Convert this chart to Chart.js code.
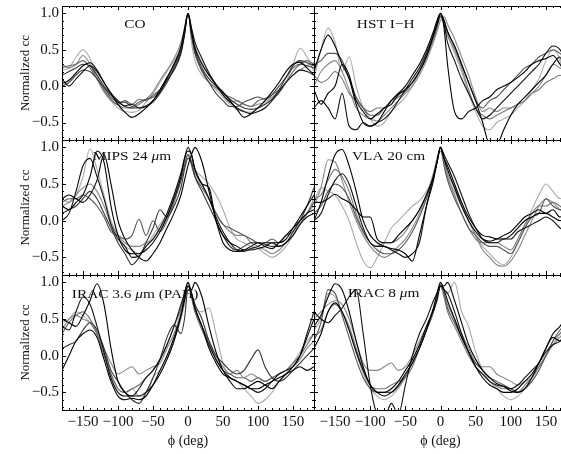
<!DOCTYPE html>
<html>
<head>
<meta charset="utf-8">
<script src="https://cdn.jsdelivr.net/npm/chart.js@4.4.1/dist/chart.umd.min.js"></script>
<style>
html, body { margin: 0; padding: 0; background: #fff; }
body { width: 561px; height: 454px; overflow: hidden; position: relative; }
canvas { position: absolute; }
</style>
</head>
<body>
<script>
// phase angle grid (deg), shared by every curve
const phi = [-180,-170,-160,-150,-140,-130,-120,-110,-100,-90,-80,-70,-60,-50,-40,-30,-20,-10,
             -5,0,5,
             10,20,30,40,50,60,70,80,90,100,110,120,130,140,150,160,170,180];

const xTicks = [-150, -100, -50, 0, 50, 100, 150];
const yTicks = [-0.5, 0, 0.5, 1];

// CO
const co1 = [0.03,0.08,0.18,0.28,0.32,0.22,0.05,-0.10,-0.25, -0.36,-0.43,-0.38,-0.30,-0.20,-0.05,0.12,0.30,0.55, 0.78,1.00,0.75, 0.52,0.30,0.15,0.02,-0.08,-0.20,-0.32,-0.43,-0.38, -0.30,-0.20,-0.08,0.05,0.20,0.30,0.33,0.25,0.15];
const co2 = [0.15,0.20,0.25,0.30,0.28,0.15,0.00,-0.12,-0.22, -0.28,-0.30,-0.30,-0.27,-0.22,-0.10,0.05,0.25,0.48, 0.72,1.00,0.72, 0.48,0.25,0.10,0.00,-0.10,-0.18,-0.25,-0.30,-0.32, -0.30,-0.25,-0.18,-0.05,0.12,0.28,0.35,0.32,0.28];
const co3 = [0.25,0.28,0.30,0.35,0.25,0.10,-0.05,-0.18,-0.25, -0.20,-0.25,-0.18,-0.20,-0.12,-0.05,0.10,0.28,0.50, 0.75,1.00,0.70, 0.45,0.20,0.05,-0.02,-0.10,-0.15,-0.20,-0.25,-0.28, -0.20,-0.17,-0.12,-0.05,0.05,0.20,0.30,0.35,0.30];
const co4 = [0.22,0.25,0.40,0.50,0.38,0.15,-0.05,-0.20,-0.30, -0.35,-0.36,-0.33,-0.22,-0.10,0.05,0.20,0.35,0.52, 0.72,1.00,0.60, 0.35,0.15,0.05,-0.05,-0.15,-0.25,-0.32,-0.35,-0.36, -0.30,-0.25,-0.18,-0.10,0.05,0.30,0.52,0.40,0.20];
const co5 = [0.30,0.25,0.30,0.42,0.30,0.10,-0.08,-0.20,-0.26, -0.30,-0.30,-0.25,-0.18,-0.08,0.08,0.22,0.38,0.60, 0.80,1.00,0.78, 0.55,0.32,0.15,0.02,-0.12,-0.22,-0.20,-0.25,-0.28, -0.25,-0.22,-0.15,-0.08,0.05,0.15,0.22,0.28,0.32];
const co6 = [0.10,0.00,0.10,0.20,0.28,0.20,0.05,-0.10,-0.20, -0.27,-0.25,-0.30,-0.28,-0.20,-0.08,0.08,0.22,0.45, 0.70,1.00,0.80, 0.60,0.38,0.18,0.02,-0.12,-0.22,-0.30,-0.35,-0.38, -0.35,-0.30,-0.20,-0.08,0.05,0.15,0.22,0.20,0.15];
const co7 = [0.00,0.05,0.15,0.22,0.20,0.10,-0.02,-0.15,-0.22, -0.22,-0.28,-0.22,-0.18,-0.15,-0.05,0.10,0.30,0.50, 0.75,1.00,0.70, 0.45,0.22,0.05,-0.10,-0.20,-0.28,-0.28,-0.22,-0.18, -0.15,-0.18,-0.12,0.00,0.12,0.25,0.30,0.28,0.25];

// HST I-H
const hst1 = [-0.05,-0.25,-0.10,0.00,0.30,0.15,-0.20,-0.35,-0.45, -0.38,-0.30,-0.25,-0.12,-0.05,0.05,0.20,0.40,0.70, 0.85,1.00,0.80, 0.30,-0.35,-0.45,-0.35,-0.30,-0.20,-0.15,-0.05,0.00, 0.05,0.12,0.20,0.30,0.35,0.38,0.42,0.30,0.15];
const hst2 = [0.10,0.50,0.80,0.60,0.20,0.40,0.00,-0.30,-0.45, -0.55,-0.50,-0.35,-0.25,-0.15,0.00,0.20,0.40,0.70, 0.85,0.95,0.85, 0.70,0.45,0.20,-0.10,-0.35,-0.55,-0.60,-0.50,-0.45, -0.40,-0.30,-0.20,-0.05,0.10,0.35,0.50,0.35,-0.15];
const hst3 = [0.20,0.50,0.70,0.55,0.30,0.10,-0.25,-0.50,-0.55, -0.50,-0.35,-0.20,-0.10,0.00,0.15,0.30,0.50,0.75, 0.90,1.00,0.90, 0.75,0.55,0.30,0.05,-0.20,-0.50,-0.80,-0.80,-0.60, -0.40,-0.25,-0.15,-0.05,0.05,0.15,0.30,0.40,-0.25];
const hst4 = [0.30,0.35,0.45,0.45,0.35,0.10,-0.15,-0.30,-0.40, -0.40,-0.30,-0.20,-0.10,-0.05,0.05,0.20,0.40,0.65, 0.80,0.95,0.90, 0.75,0.55,0.30,0.05,-0.20,-0.30,-0.20,-0.15,-0.05, 0.05,0.15,0.25,0.30,0.40,0.45,0.50,0.45,0.35];
const hst5 = [0.00,0.20,0.30,0.35,0.20,-0.05,-0.30,-0.40,-0.45, -0.48,-0.40,-0.30,-0.20,-0.10,0.00,0.15,0.35,0.60, 0.75,0.90,0.95, 0.85,0.65,0.40,0.15,-0.15,-0.35,-0.30,-0.35,-0.30, -0.30,-0.25,-0.20,-0.10,0.00,0.15,0.30,0.25,0.20];
const hst6 = [-0.30,-0.20,-0.30,-0.45,-0.10,-0.55,-0.60,-0.50,-0.55, -0.50,-0.45,-0.35,-0.20,-0.05,0.10,0.25,0.45,0.70, 0.85,0.98,0.85, 0.60,0.35,0.10,-0.10,-0.30,-0.45,-0.40,-0.30,-0.20, -0.10,0.00,0.10,0.20,0.30,0.45,0.55,0.50,0.30];
const hst7 = [0.15,0.05,0.10,0.20,0.10,-0.10,-0.20,-0.30,-0.35, -0.30,-0.30,-0.20,-0.15,-0.08,0.05,0.20,0.45,0.70, 0.85,1.00,0.85, 0.70,0.50,0.25,-0.05,-0.30,-0.40,-0.45,-0.40,-0.35, -0.30,-0.25,-0.20,-0.10,-0.05,0.05,0.10,0.15,0.05];

// MIPS 24 um
const mips1 = [0.20,0.15,0.25,0.35,0.60,0.95,0.80,0.20,-0.20, -0.40,-0.45,-0.45,-0.40,-0.30,-0.15,0.05,0.30,0.60, 0.85,0.95,0.90, 0.70,0.50,0.45,0.00,-0.20,-0.30,-0.35,-0.40,-0.40, -0.38,-0.35,-0.30,-0.30,-0.25,-0.10,0.05,0.20,0.35];
const mips2 = [0.00,0.10,0.40,0.75,0.85,0.60,0.30,-0.05,-0.25, -0.35,-0.50,-0.48,-0.35,-0.25,-0.10,0.10,0.35,0.65, 0.85,1.00,0.90, 0.70,0.50,0.30,0.05,-0.15,-0.30,-0.40,-0.42,-0.38, -0.35,-0.30,-0.30,-0.35,-0.30,-0.20,-0.05,0.05,0.10];
const mips3 = [0.30,0.25,0.35,0.60,0.98,0.70,0.35,0.00,-0.20, -0.35,-0.40,-0.45,-0.35,-0.20,-0.05,0.10,0.35,0.65, 0.80,0.90,0.85, 0.70,0.60,0.50,0.35,0.15,-0.10,-0.25,-0.30,-0.35, -0.38,-0.45,-0.50,-0.45,-0.35,-0.20,-0.05,0.10,0.20];
const mips4 = [0.25,0.30,0.30,0.35,0.30,0.20,0.05,-0.15,-0.20, -0.25,-0.20,0.02,-0.20,0.00,-0.15,0.00,0.25,0.55, 0.75,0.90,0.75, 0.60,0.45,0.30,0.10,-0.05,-0.10,-0.15,-0.20,-0.25, -0.30,-0.30,-0.25,-0.30,-0.20,-0.15,0.00,0.10,0.25];
const mips5 = [0.30,0.35,0.30,0.25,0.35,0.55,0.90,0.50,0.00, -0.25,-0.40,-0.50,-0.55,-0.45,-0.30,-0.10,0.10,0.35, 0.55,0.75,0.90, 1.00,0.80,0.40,0.00,-0.30,-0.40,-0.42,-0.40,-0.35, -0.30,-0.35,-0.38,-0.30,-0.20,-0.10,0.00,0.10,0.15];
const mips6 = [0.20,0.25,0.35,0.45,0.50,0.40,0.20,-0.05,-0.20, -0.30,-0.35,-0.35,-0.30,-0.25,-0.10,0.05,0.30,0.55, 0.80,0.90,0.80, 0.65,0.50,0.30,0.10,-0.05,-0.15,-0.20,-0.20,-0.30, -0.35,-0.40,-0.45,-0.40,-0.30,-0.20,-0.05,0.10,0.30];
const mips7 = [0.10,0.15,0.20,0.30,0.40,0.30,0.10,-0.10,-0.30, -0.45,-0.60,-0.50,-0.30,-0.10,0.15,0.05,0.20,0.45, 0.70,0.85,0.80, 0.60,0.40,0.20,0.00,-0.20,-0.35,-0.40,-0.35,-0.30, -0.30,-0.32,-0.35,-0.35,-0.30,-0.15,0.00,0.20,0.45];

// VLA 20 cm
const vla1 = [0.00,0.25,0.60,0.90,0.97,0.75,0.40,0.00,-0.20, -0.30,-0.35,-0.38,-0.40,-0.45,-0.55,-0.20,0.20,0.55, 0.80,1.00,0.85, 0.75,0.50,0.25,0.05,-0.10,-0.20,-0.22,-0.25,-0.25, -0.20,-0.10,0.00,0.05,0.10,0.10,0.05,0.00,0.05];
const vla2 = [0.20,0.45,0.83,0.80,0.55,0.25,0.00,-0.20,-0.35, -0.45,-0.50,-0.45,-0.35,-0.25,-0.10,0.10,0.35,0.65, 0.85,1.00,0.85, 0.65,0.45,0.25,0.00,-0.20,-0.40,-0.50,-0.60,-0.62, -0.55,-0.40,-0.20,0.00,0.20,0.30,0.25,0.15,0.10];
const vla3 = [0.25,0.45,0.40,0.35,0.20,0.00,-0.30,-0.55,-0.64, -0.50,-0.30,-0.10,0.00,0.10,0.20,0.27,0.40,0.60, 0.80,1.00,0.80, 0.60,0.40,0.20,0.00,-0.20,-0.35,-0.45,-0.55,-0.60, -0.50,-0.30,-0.10,0.15,0.35,0.50,0.40,0.30,0.35];
const vla4 = [0.00,0.10,0.35,0.55,0.64,0.50,0.20,-0.10,-0.30, -0.35,-0.35,-0.40,-0.45,-0.50,-0.45,-0.30,0.20,0.60, 0.80,1.00,0.90, 0.80,0.60,0.35,0.10,-0.10,-0.25,-0.30,-0.30,-0.25, -0.25,-0.15,-0.10,-0.05,0.00,0.05,0.00,-0.10,-0.15];
const vla5 = [0.25,0.25,0.30,0.36,0.30,0.25,0.15,0.05,0.05, -0.25,-0.30,-0.30,-0.20,-0.10,0.00,0.15,0.35,0.60, 0.80,1.00,0.85, 0.70,0.45,0.20,0.00,-0.15,-0.25,-0.28,-0.25,-0.20, -0.15,-0.05,0.05,0.10,0.15,0.10,0.15,0.05,0.10];
const vla6 = [0.10,0.20,0.40,0.50,0.45,0.30,0.05,-0.15,-0.30, -0.40,-0.45,-0.45,-0.40,-0.30,-0.15,0.05,0.30,0.60, 0.80,1.00,0.75, 0.55,0.30,0.10,-0.10,-0.20,-0.30,-0.35,-0.35,-0.40, -0.45,-0.30,-0.10,0.05,0.10,0.30,0.20,0.15,0.20];
const vla7 = [0.30,0.35,0.55,0.70,0.60,0.40,0.10,-0.15,-0.30, -0.35,-0.30,-0.30,-0.25,-0.15,0.00,0.15,0.35,0.60, 0.80,0.95,0.80, 0.60,0.35,0.10,-0.10,-0.25,-0.30,-0.30,-0.30,-0.35, -0.40,-0.25,-0.05,0.10,0.20,0.20,0.25,0.20,0.10];

// IRAC 3.6 um (PAH)
const i36a = [0.50,0.45,0.40,0.55,0.75,0.98,0.70,0.10,-0.35, -0.50,-0.55,-0.55,-0.50,-0.40,-0.25,-0.05,0.20,0.55, 0.80,0.95,0.85, 0.65,0.40,0.10,-0.10,-0.25,-0.30,-0.35,-0.40,-0.45, -0.45,-0.40,-0.35,-0.30,-0.25,-0.15,0.00,0.25,0.50];
const i36b = [0.40,0.35,0.60,0.80,0.70,0.40,0.05,-0.30,-0.50, -0.55,-0.55,-0.45,-0.30,-0.20,-0.05,0.15,0.40,0.70, 0.85,1.00,0.85, 0.65,0.40,0.15,-0.05,-0.20,-0.30,-0.35,-0.40,-0.45, -0.50,-0.45,-0.35,-0.25,-0.20,-0.15,0.00,0.30,0.60];
const i36c = [-0.20,0.00,0.20,0.30,0.35,0.25,-0.05,-0.35,-0.55, -0.60,-0.58,-0.60,-0.55,-0.40,-0.20,0.00,0.25,0.55, 0.75,0.95,0.90, 1.00,0.80,0.40,0.05,-0.20,-0.35,-0.45,-0.45,-0.40, -0.35,-0.40,-0.45,-0.35,-0.25,-0.20,-0.15,-0.20,-0.15];
const i36d = [0.10,0.15,0.20,0.35,0.45,0.35,0.10,-0.20,-0.35, -0.50,-0.60,-0.65,-0.50,-0.30,-0.05,0.25,0.42,0.30, 0.50,0.90,0.85, 0.70,0.50,0.20,0.00,-0.10,-0.20,-0.25,-0.20,-0.05, 0.08,-0.15,-0.30,-0.35,-0.30,-0.20,-0.10,0.00,0.10];
const i36e = [0.35,0.50,0.55,0.50,0.45,0.30,0.10,-0.10,-0.25, -0.20,-0.15,-0.25,-0.20,-0.15,-0.10,0.10,0.30,0.60, 0.85,1.00,0.80, 0.60,0.40,0.20,0.00,-0.15,-0.25,-0.20,-0.30,-0.25, -0.30,-0.35,-0.30,-0.25,-0.20,-0.15,-0.05,0.10,0.20];
const i36f = [0.45,0.50,0.60,0.55,0.45,0.30,0.05,-0.25,-0.45, -0.50,-0.45,-0.55,-0.55,-0.30,-0.20,-0.05,0.20,0.50, 0.70,0.90,0.85, 0.65,0.60,0.65,0.30,-0.10,-0.30,-0.35,-0.45,-0.55, -0.65,-0.60,-0.50,-0.35,-0.25,-0.10,0.05,0.20,0.30];
const i36g = [0.30,0.45,0.55,0.60,0.50,0.30,0.00,-0.25,-0.45, -0.50,-0.45,-0.40,-0.30,-0.20,-0.05,0.15,0.40,0.65, 0.85,1.00,0.80, 0.60,0.35,0.15,-0.05,-0.20,-0.25,-0.30,-0.30,-0.35, -0.30,-0.35,-0.30,-0.25,-0.20,-0.10,0.00,0.15,0.30];

// IRAC 8 um
const i8a = [0.40,0.55,0.80,0.98,0.90,0.60,0.20,-0.15,-0.40, -0.50,-0.55,-0.50,-0.40,-0.25,-0.10,0.10,0.35,0.65, 0.85,1.00,0.90, 0.75,0.50,0.25,0.05,-0.15,-0.30,-0.40,-0.45,-0.50, -0.50,-0.45,-0.35,-0.25,-0.10,0.10,0.30,0.40,0.55];
const i8b = [0.60,0.50,0.45,0.55,0.65,0.80,0.90,0.30,-0.40, -0.80,-0.85,-0.65,-0.80,-0.40,0.00,0.30,0.50,0.75, 0.85,0.95,0.90, 0.85,0.60,0.30,0.05,-0.15,-0.25,-0.35,-0.40,-0.42, -0.45,-0.40,-0.30,-0.20,-0.10,0.05,0.15,0.20,0.35];
const i8c = [0.10,0.30,0.60,0.72,0.60,0.35,0.05,-0.20,-0.40, -0.50,-0.50,-0.45,-0.35,-0.20,-0.05,0.15,0.40,0.62, 0.75,0.95,0.95, 1.00,0.75,0.45,0.15,-0.05,-0.20,-0.30,-0.38,-0.42, -0.48,-0.50,-0.45,-0.30,-0.10,0.10,0.25,0.20,0.20];
const i8d = [0.50,0.60,0.70,0.75,0.70,0.50,0.20,-0.10,-0.20, -0.20,-0.15,-0.10,-0.20,-0.15,0.00,0.20,0.40,0.65, 0.80,0.95,0.85, 0.70,0.50,0.30,0.10,-0.10,-0.15,-0.15,-0.25,-0.30, -0.35,-0.40,-0.35,-0.30,-0.15,0.00,0.15,0.25,0.40];
const i8e = [0.35,0.50,0.85,0.80,0.60,0.35,0.05,-0.25,-0.45, -0.55,-0.60,-0.55,-0.45,-0.30,-0.10,0.10,0.35,0.60, 0.80,0.95,0.85, 0.85,1.00,0.60,0.40,0.05,-0.20,-0.35,-0.45,-0.55, -0.60,-0.55,-0.45,-0.30,-0.15,0.00,0.15,0.30,0.45];
const i8f = [0.20,0.45,0.90,0.85,0.55,0.25,-0.05,-0.30,-0.45, -0.50,-0.50,-0.50,-0.42,-0.28,-0.10,0.10,0.35,0.60, 0.80,0.98,0.85, 0.65,0.45,0.25,0.05,-0.10,-0.20,-0.30,-0.35,-0.40, -0.45,-0.50,-0.45,-0.35,-0.20,0.00,0.20,0.35,0.45];
const i8g = [0.25,0.35,0.60,0.70,0.60,0.40,0.10,-0.20,-0.40, -0.45,-0.45,-0.40,-0.35,-0.30,-0.15,0.10,0.35,0.60, 0.80,0.95,0.80, 0.60,0.40,0.20,0.00,-0.15,-0.25,-0.35,-0.42,-0.45, -0.45,-0.50,-0.40,-0.30,-0.15,0.00,0.20,0.30,0.40];

const serif = "'Liberation Serif', 'Times New Roman', serif";
Chart.defaults.font.family = serif;
Chart.defaults.color = '#111';

// panel list: curves, their grey levels, and the label drawn in the corner
const panels = [
  { lines: [co1, co2, co3, co4, co5, co6, co7],
    shades: ['#000', '#333', '#666', '#aaa', '#888', '#111', '#444'],
    text: [{ t: 'CO' }], at: [-91, 0.85], col: 0, row: 0 },
  { lines: [hst1, hst2, hst3, hst4, hst5, hst6, hst7],
    shades: ['#000', '#aaa', '#000', '#555', '#888', '#111', '#777'],
    text: [{ t: 'HST I\u2212H' }], at: [-119, 0.85], col: 1, row: 0 },
  { lines: [mips1, mips2, mips3, mips4, mips5, mips6, mips7],
    shades: ['#000', '#111', '#aaa', '#555', '#000', '#888', '#333'],
    text: [{ t: 'MIPS 24 ' }, { t: '\u03bc', it: true }, { t: 'm' }], at: [-136, 0.87], col: 0, row: 1 },
  { lines: [vla1, vla2, vla3, vla4, vla5, vla6, vla7],
    shades: ['#000', '#888', '#aaa', '#111', '#000', '#555', '#777'],
    text: [{ t: 'VLA 20 cm' }], at: [-126, 0.87], col: 1, row: 1 },
  { lines: [i36a, i36b, i36c, i36d, i36e, i36f, i36g],
    shades: ['#000', '#111', '#000', '#333', '#888', '#aaa', '#666'],
    text: [{ t: 'IRAC 3.6 ' }, { t: '\u03bc', it: true }, { t: 'm (PAH)' }], at: [-166, 0.83], col: 0, row: 2 },
  { lines: [i8a, i8b, i8c, i8d, i8e, i8f, i8g],
    shades: ['#000', '#111', '#000', '#888', '#aaa', '#555', '#777'],
    text: [{ t: 'IRAC 8 ' }, { t: '\u03bc', it: true }, { t: 'm' }], at: [-132, 0.85], col: 1, row: 2 }
];

// page geometry
const plotLeft = 62, plotMid = 314, plotRight = 567;
const rowTop = [6, 140, 275], rowBottom = [140, 275, 410];
const pad = 4, xAxisH = 44;

// frame with inward ticks on all four sides
const frameTicks = {
  id: 'frameTicks',
  afterDatasetsDraw(chart) {
    const { ctx, chartArea: a, scales: { x, y } } = chart;
    ctx.save();
    ctx.strokeStyle = '#000';
    ctx.lineWidth = 1;
    ctx.beginPath();
    for (let v = -170; v <= 170; v += 10) {
      const px = Math.round(x.getPixelForValue(v)) + 0.5;
      const len = v % 50 === 0 ? 4 : 2;
      ctx.moveTo(px, a.bottom); ctx.lineTo(px, a.bottom - len);
      ctx.moveTo(px, a.top); ctx.lineTo(px, a.top + len);
    }
    for (let k = -7; k <= 10; k++) {
      const py = Math.round(y.getPixelForValue(k / 10)) + 0.5;
      const len = k % 5 === 0 ? 4 : 2;
      ctx.moveTo(a.left, py); ctx.lineTo(a.left + len, py);
      ctx.moveTo(a.right, py); ctx.lineTo(a.right - len, py);
    }
    ctx.stroke();
    ctx.strokeRect(a.left + 0.5, a.top + 0.5, a.right - a.left, a.bottom - a.top);
    ctx.restore();
  }
};

function labelPlugin(p) {
  return {
    id: 'panelLabel',
    afterDatasetsDraw(chart) {
      const { ctx, scales: { x, y } } = chart;
      ctx.save();
      ctx.translate(x.getPixelForValue(p.at[0]), y.getPixelForValue(p.at[1]));
      ctx.scale(1.18, 1);
      ctx.fillStyle = '#111';
      ctx.textBaseline = 'middle';
      let cx = 0;
      p.text.forEach(part => {
        ctx.font = (part.it ? 'italic ' : '') + '13px ' + serif;
        ctx.fillText(part.t, cx, 0);
        cx += ctx.measureText(part.t).width;
      });
      ctx.restore();
    }
  };
}

function makePanel(p) {
  const isLeft = p.col === 0;
  const isBottom = p.row === 2;
  const canvas = document.createElement('canvas');
  const left = isLeft ? 0 : plotMid - pad;
  const width = isLeft ? plotMid + pad : plotRight - plotMid + 2 * pad;
  const top = rowTop[p.row] - pad;
  const height = rowBottom[p.row] - rowTop[p.row] + pad + (isBottom ? xAxisH : pad);
  canvas.width = width;
  canvas.height = height;
  canvas.style.left = left + 'px';
  canvas.style.top = top + 'px';
  document.body.appendChild(canvas);

  new Chart(canvas, {
    type: 'line',
    data: {
      datasets: p.lines.map((vals, i) => ({
        data: phi.map((f, j) => ({ x: f, y: vals[j] })),
        borderColor: p.shades[i],
        borderWidth: 1.1,
        pointRadius: 0,
        fill: false,
        cubicInterpolationMode: 'monotone',
        order: parseInt(p.shades[i].slice(1), 16)
      }))
    },
    options: {
      responsive: false,
      animation: false,
      events: [],
      layout: { padding: { left: isLeft ? 0 : pad, right: pad, top: pad, bottom: isBottom ? 0 : pad } },
      plugins: { legend: { display: false }, tooltip: { enabled: false } },
      scales: {
        x: {
          type: 'linear',
          min: -180,
          max: 180,
          display: isBottom,
          grid: { display: false, drawTicks: false },
          border: { display: false },
          afterBuildTicks: s => { s.ticks = xTicks.map(v => ({ value: v })); },
          afterFit: s => {
            if (!isBottom) return;
            s.height = xAxisH; s.paddingLeft = 0; s.paddingRight = 0;
          },
          ticks: {
            padding: 3,
            maxRotation: 0,
            autoSkip: false,
            color: '#111',
            font: { size: 15 },
            callback: v => v < 0 ? '\u2212' + (-v) : String(v)
          },
          title: {
            display: true,
            text: '\u03d5 (deg)',
            color: '#111',
            font: { size: 14 },
            padding: { top: 0, bottom: 4 }
          }
        },
        y: {
          min: -0.74,
          max: 1.1,
          display: isLeft,
          grid: { display: false, drawTicks: false },
          border: { display: false },
          afterBuildTicks: s => { s.ticks = yTicks.map(v => ({ value: v })); },
          afterFit: s => {
            if (!isLeft) return;
            s.width = plotLeft; s.paddingTop = 0; s.paddingBottom = 0;
          },
          ticks: {
            padding: 3,
            color: '#111',
            font: { size: 15 },
            callback: v => (v < 0 ? '\u2212' : '') + Math.abs(v).toFixed(1)
          },
          title: {
            display: true,
            text: 'Normalized cc',
            color: '#111',
            font: { size: 13 },
            padding: { top: 18, bottom: 0 }
          }
        }
      }
    },
    plugins: [frameTicks, labelPlugin(p)]
  });
}

panels.forEach(makePanel);
</script>
</body>
</html>
